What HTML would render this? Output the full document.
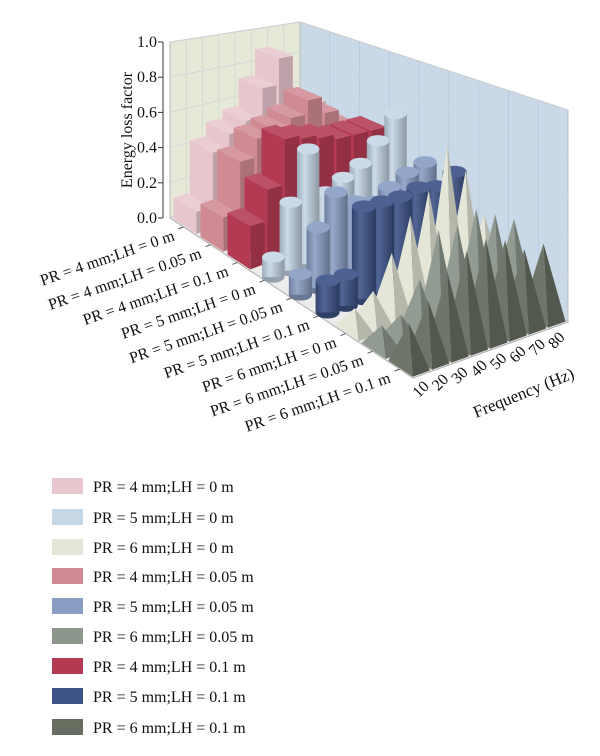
<!DOCTYPE html>
<html><head><meta charset="utf-8"><style>
body{margin:0;background:#fff;width:600px;height:756px;overflow:hidden}
svg{display:block;font-family:"Liberation Serif",serif}
</style></head><body>
<svg id="chart" width="600" height="756" viewBox="0 0 600 756" xmlns="http://www.w3.org/2000/svg"></svg>
<script>
const seriesNames=["PR = 4 mm;LH = 0 m","PR = 4 mm;LH = 0.05 m","PR = 4 mm;LH = 0.1 m","PR = 5 mm;LH = 0 m","PR = 5 mm;LH = 0.05 m","PR = 5 mm;LH = 0.1 m","PR = 6 mm;LH = 0 m","PR = 6 mm;LH = 0.05 m","PR = 6 mm;LH = 0.1 m"];
const frequencies=["10","20","30","40","50","60","70","80"];
const yTicks=[0,0.2,0.4,0.6,0.8,1.0];
const s0=[0.12,0.42,0.5,0.55,0.72,0.88,0.62,0.55];
const s1=[0.18,0.45,0.55,0.58,0.62,0.7,0.6,0.5];
const s2=[0.22,0.38,0.62,0.6,0.58,0.55,0.55,0.55];
const s3=[0.1,0.35,0.6,0.35,0.4,0.45,0.55,0.68];
const s4=[0.1,0.3,0.45,0.38,0.35,0.4,0.45,0.48];
const s5=[0.15,0.15,0.45,0.45,0.45,0.47,0.45,0.5];
const s6=[0.1,0.15,0.3,0.45,0.55,0.75,0.6,0.35];
const s7=[0.1,0.12,0.25,0.45,0.45,0.5,0.45,0.4];
const s8=[0.18,0.25,0.35,0.42,0.45,0.42,0.35,0.35];
const seriesValues=[s0,s1,s2,s3,s4,s5,s6,s7,s8];
const colors=["#e8c6ce","#c6d7e6","#e3e5d6","#d08a94","#8a9ec4","#8c968c","#b33a52","#3e5488","#676e60"];
const seriesColor=[colors[0],colors[3],colors[6],colors[1],colors[4],colors[7],colors[2],colors[5],colors[8]];
const shape=["bar","bar","bar","cyl","cyl","cyl","cone","cone","cone"];

const NS="http://www.w3.org/2000/svg";
const svg=document.getElementById('chart');
const NSER=seriesNames.length, NF=frequencies.length;
const A=[170,218],B=[300,170],C=[568,322],D=[413,378];
const hA=176,hB=148,hC=212,hD=240;
function proj(s,f,v){
  const u=s/NSER,w=f/NF;
  const x=A[0]*(1-u)*(1-w)+B[0]*(1-u)*w+C[0]*u*w+D[0]*u*(1-w);
  const y=A[1]*(1-u)*(1-w)+B[1]*(1-u)*w+C[1]*u*w+D[1]*u*(1-w);
  const h=hA*(1-u)*(1-w)+hB*(1-u)*w+hC*u*w+hD*u*(1-w);
  return [x,y-h*v];
}
function el(tag,attrs,parent){const e=document.createElementNS(NS,tag);for(const k in attrs)e.setAttribute(k,attrs[k]);(parent||svg).appendChild(e);return e;}
function pts(a){return a.map(p=>p[0].toFixed(1)+","+p[1].toFixed(1)).join(" ");}
function shade(hex,k){let r=parseInt(hex.slice(1,3),16),g=parseInt(hex.slice(3,5),16),b=parseInt(hex.slice(5,7),16);
  const f=c=>Math.max(0,Math.min(255,Math.round(k>1?c+(255-c)*(k-1):c*k)));return `rgb(${f(r)},${f(g)},${f(b)})`;}

const lw=el('polygon',{points:pts([proj(0,0,0),proj(0,NF,0),proj(0,NF,1),proj(0,0,1)]),fill:"#e7e9d8",stroke:"#bbb","stroke-width":1});

const rw=el('polygon',{points:pts([proj(0,NF,0),proj(NSER,NF,0),proj(NSER,NF,1),proj(0,NF,1)]),fill:"#c9d9e7",stroke:"#bbb","stroke-width":1});

const fl=el('polygon',{points:pts([proj(0,0,0),proj(0,NF,0),proj(NSER,NF,0),proj(NSER,0,0)]),fill:"#ececec",stroke:"#aaa","stroke-width":1});

for(const t of yTicks){
  const g1=el('polyline',{points:pts([proj(0,0,t),proj(0,NF,t),proj(NSER,NF,t)]),fill:"none",stroke:"#d0d4d8","stroke-width":0.8});
  
}
for(let f=1;f<NF;f++){const g=el('line',{x1:proj(0,f,0)[0],y1:proj(0,f,0)[1],x2:proj(0,f,1)[0],y2:proj(0,f,1)[1],stroke:"#d4d6cc","stroke-width":0.8});}
for(let s=1;s<NSER;s++){const g=el('line',{x1:proj(s,NF,0)[0],y1:proj(s,NF,0)[1],x2:proj(s,NF,1)[0],y2:proj(s,NF,1)[1],stroke:"#b8c8d8","stroke-width":0.8});}

const ax=el('line',{x1:163,y1:proj(0,0,0)[1],x2:163,y2:proj(0,0,1)[1],stroke:"#333","stroke-width":1});

for(const t of yTicks){const y=proj(0,0,t)[1];
  el('line',{x1:158,y1:y,x2:163,y2:y,stroke:"#333"});
  const tx=el('text',{x:157,y:y+5,"text-anchor":"end","font-size":16,fill:"#111"});tx.textContent=t.toFixed(1);
  }
const yt=el('text',{x:0,y:0,transform:"translate(132,130) rotate(-90)","text-anchor":"middle","font-size":16,fill:"#111"});
yt.textContent="Energy loss factor";

for(let s=0;s<NSER;s++){
  for(let f=NF-1;f>=0;f--){
    const v=seriesValues[s][f],col=seriesColor[s],kind=shape[s];
    const g=el('g',{});
    
    
    const a0=s+0.08,a1=s+0.92,b0=f+0.08,b1=f+0.92;
    if(kind==="bar"){
      el('polygon',{points:pts([proj(a1,b0,0),proj(a1,b1,0),proj(a1,b1,v),proj(a1,b0,v)]),fill:shade(col,0.82)},g);
      el('polygon',{points:pts([proj(a0,b0,0),proj(a1,b0,0),proj(a1,b0,v),proj(a0,b0,v)]),fill:col},g);
      el('polygon',{points:pts([proj(a0,b0,v),proj(a1,b0,v),proj(a1,b1,v),proj(a0,b1,v)]),fill:shade(col,1.12)},g);
    }else if(kind==="cyl"){
      const c0=proj(s+0.5,f+0.5,0),c1=proj(s+0.5,f+0.5,v);
      const rx=10+s*0.4,ry=rx*0.5;
      const id='gr'+s+'_'+f;
      const gr=el('linearGradient',{id:id,x1:0,x2:1,y1:0,y2:0},g);
      el('stop',{offset:0,"stop-color":shade(col,0.8)},gr);
      el('stop',{offset:0.35,"stop-color":shade(col,1.1)},gr);
      el('stop',{offset:1,"stop-color":shade(col,0.7)},gr);
      el('ellipse',{cx:c0[0],cy:c0[1],rx:rx,ry:ry,fill:shade(col,0.75)},g);
      el('rect',{x:c0[0]-rx,y:c1[1],width:2*rx,height:Math.max(0,c0[1]-c1[1]),fill:`url(#${id})`},g);
      el('ellipse',{cx:c1[0],cy:c1[1],rx:rx,ry:ry,fill:shade(col,1.08)},g);
    }else{
      const ap=proj(s+0.5,f+0.5,v);
      el('polygon',{points:pts([proj(s+0.05,f+0.05,0),proj(s+0.95,f+0.05,0),ap]),fill:shade(col,1.05)},g);
      el('polygon',{points:pts([proj(s+0.95,f+0.05,0),proj(s+0.95,f+0.95,0),ap]),fill:shade(col,0.8)},g);
    }
  }
}

for(let s=0;s<NSER;s++){
  const p=proj(s+0.5,0,0);
  el('line',{x1:p[0],y1:p[1],x2:p[0]-5,y2:p[1]+2,stroke:"#555"});
  const t=el('text',{x:0,y:0,transform:`translate(${p[0]-8},${p[1]+13}) rotate(-19)`,"text-anchor":"end","font-size":16,fill:"#111"});
  t.textContent=seriesNames[s];
}
for(let f=0;f<NF;f++){
  const p=proj(NSER,f+0.5,0);
  const t=el('text',{x:0,y:0,transform:`translate(${p[0]-4},${p[1]+24}) rotate(-45)`,"text-anchor":"start","font-size":16,fill:"#111"});
  t.textContent=frequencies[f];
}
const xt=el('text',{x:0,y:0,transform:"translate(476,418) rotate(-22)","text-anchor":"start","font-size":17,fill:"#111"});
xt.textContent="Frequency (Hz)";

const legendOrder=[0,3,6,1,4,7,2,5,8];
const legendY=[486,517,547,576,606,636,666,696,727];
for(let i=0;i<9;i++){
  const g=el('g',{});
  
  el('rect',{x:52,y:legendY[i]-8,width:31,height:16,fill:colors[i]},g);
  const t=el('text',{x:93,y:legendY[i]+6,"font-size":16,fill:"#111"},g);
  t.textContent=seriesNames[legendOrder[i]];
}
</script>
</body></html>
